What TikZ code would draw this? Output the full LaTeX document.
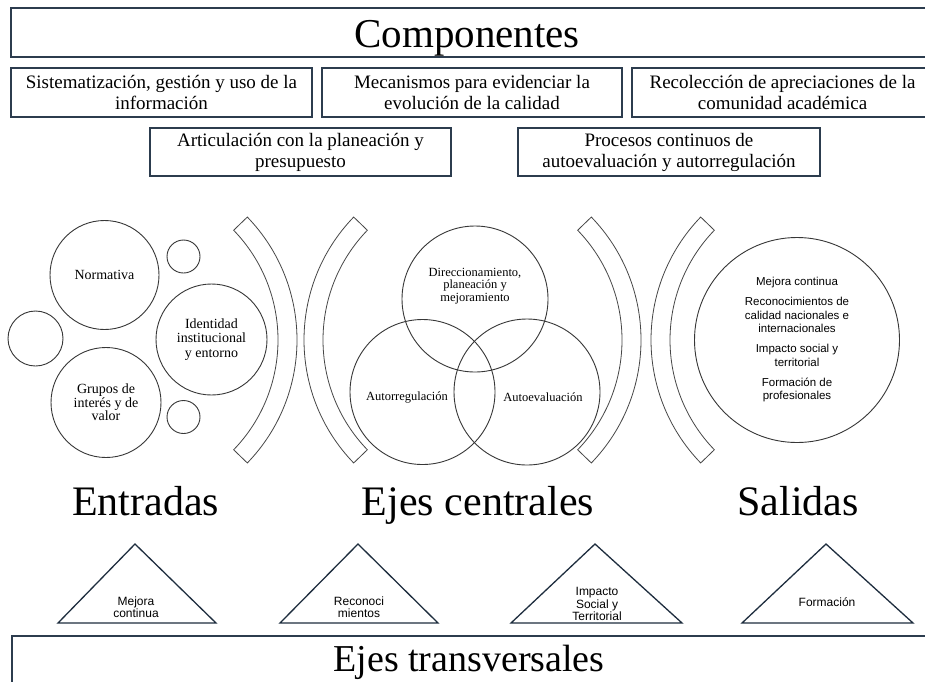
\documentclass[tikz,border=0pt]{standalone}
\usepackage{fontspec}
\setmainfont{Liberation Serif}
\newfontfamily\sansf{Liberation Sans}
\definecolor{boxc}{RGB}{44,60,78}
\definecolor{tric}{RGB}{30,45,62}
\definecolor{circc}{RGB}{55,55,55}
\definecolor{brc}{RGB}{70,70,70}
\begin{document}
\begin{tikzpicture}[x=1pt,y=1pt,
 cbox/.style={draw=boxc,line width=1.5pt,inner sep=0pt,align=center,font=\fontsize{19}{21}\selectfont},
 frame/.style={draw=boxc,line width=1.5pt},
 circ/.style={circle,draw=circc,line width=0.9pt,inner sep=0pt,align=center},
 ltext/.style={font=\fontsize{14}{14.2}\selectfont,align=center,inner sep=0pt},
 vtext/.style={font=\fontsize{12.5}{12.5}\selectfont,align=center,inner sep=0pt},
 bigl/.style={font=\fontsize{42}{46}\selectfont,anchor=base,inner sep=0pt},
 tri/.style={draw=tric,line width=1.3pt,line join=miter},
 trit/.style={font=\sansf\fontsize{12}{11.5}\selectfont,align=center,inner sep=0pt},
 brk/.style={draw=brc,line width=0.8pt,fill=white}]
\useasboundingbox (0,0) rectangle (925,-681);
\clip (0,0) rectangle (925,-681);
\fill[white] (0,0) rectangle (925,-681);

% top box
\draw[frame] (11,-8) rectangle (940,-57);
\node[font=\fontsize{41}{45}\selectfont,anchor=base,inner sep=0pt] (comp) at (467,-47) {Componentes};

% component boxes
\node[cbox,minimum width=301pt,minimum height=49pt] (b1) at (161.5,-92.5) {Sistematización, gestión y uso de la\\información};
\node[cbox,minimum width=300pt,minimum height=49pt] (b2) at (472,-92.5) {Mecanismos para evidenciar la\\evolución de la calidad};
\node[cbox,minimum width=301pt,minimum height=49pt] (b3) at (782.5,-92.5) {Recolección de apreciaciones de la\\comunidad académica};
\node[cbox,minimum width=301pt,minimum height=48pt] (b4) at (300.5,-152) {Articulación con la planeación y\\presupuesto};
\node[cbox,minimum width=302pt,minimum height=48pt] (b5) at (669,-152) {Procesos continuos de\\autoevaluación y autorregulación};

% brackets
\draw[brk,shift={(120,-340)}] (-44:177) arc[start angle=-44,end angle=44,radius=177pt] -- (44:158) arc[start angle=44,end angle=-44,radius=158pt] -- cycle;
\draw[brk,shift={(481,-340)}] (136:177) arc[start angle=136,end angle=224,radius=177pt] -- (224:158) arc[start angle=224,end angle=136,radius=158pt] -- cycle;
\draw[brk,shift={(464,-340)}] (-44:177) arc[start angle=-44,end angle=44,radius=177pt] -- (44:158) arc[start angle=44,end angle=-44,radius=158pt] -- cycle;
\draw[brk,shift={(828,-340)}] (136:177) arc[start angle=136,end angle=224,radius=177pt] -- (224:158) arc[start angle=224,end angle=136,radius=158pt] -- cycle;

% entradas circles
\node[circ,ltext,minimum size=109pt] (norm) at (104.5,-275) {Normativa};
\node[circ,minimum size=33pt] (s1) at (183.5,-256.5) {};
\node[circ,minimum size=55pt] (s0) at (35.5,-338.5) {};
\node[circ,ltext,minimum size=111pt] (ident) at (211.5,-339.5) {Identidad\\institucional\\y entorno};
\node[circ,ltext,minimum size=110pt,font=\fontsize{14}{13.6}\selectfont] (grup) at (106,-402.5) {Grupos de\\interés y de\\valor};
\node[circ,minimum size=33pt] (s2) at (183.5,-417) {};

% venn
\node[circ,minimum size=146pt] (vtop) at (475,-299) {};
\node[circ,minimum size=145pt] (vbl) at (422.5,-392) {};
\node[circ,minimum size=146pt] (vbr) at (527,-392) {};
\node[vtext] (tdir) at (475,-286) {Direccionamiento,\\planeación y\\mejoramiento};
\node[vtext] (tautr) at (407,-397) {Autorregulación};
\node[vtext] (tauto) at (543,-397) {Autoevaluación};

% salidas circle
\node[circ,minimum size=205pt,font=\sansf\fontsize{11.5}{13.5}\selectfont] (sal) at (797,-340)
 {Mejora continua\\[6.5pt]Reconocimientos de\\calidad nacionales e\\internacionales\\[6.5pt]Impacto social y\\territorial\\[6.5pt]Formación de\\profesionales};

% big labels
\node[bigl] (entr) at (145.5,-515) {Entradas};
\node[bigl] (ejes) at (478,-515) {Ejes centrales};
\node[bigl] (sali) at (798,-515) {Salidas};

% triangles
\draw[tri] (58,-623) -- (135,-544) -- (216,-623) -- cycle;
\draw[tri] (280,-623) -- (358,-544) -- (438,-623) -- cycle;
\draw[tri] (511,-623) -- (595,-544) -- (682,-623) -- cycle;
\draw[tri] (742,-623) -- (826,-544) -- (913,-623) -- cycle;
\node[trit] (t1) at (136,-607) {Mejora\\continua};
\node[trit] (t2) at (359,-607) {Reconoci\\mientos};
\node[trit,font=\sansf\fontsize{12}{12.4}\selectfont] (t3) at (597,-604) {Impacto\\Social y\\Territorial};
\node[trit] (t4) at (827,-602) {Formación};

% bottom box
\draw[frame] (12,-636) rectangle (940,-700);
\node[font=\fontsize{38}{42}\selectfont,anchor=base,inner sep=0pt] (transv) at (469,-671) {Ejes transversales};
\end{tikzpicture}
\end{document}
